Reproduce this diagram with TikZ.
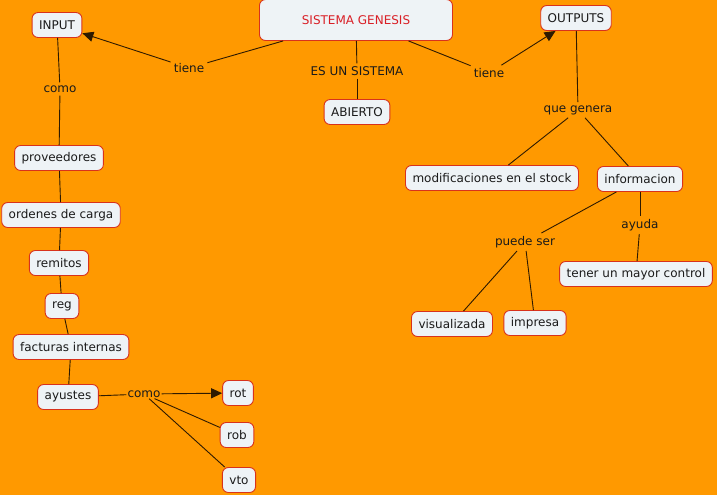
\documentclass[tikz,border=0pt]{standalone}
\definecolor{MapOrange}{HTML}{FF9900}
\definecolor{MapPaper}{HTML}{EEF3F6}
\definecolor{MapRim}{HTML}{D8321C}
\definecolor{MapInk}{HTML}{1A1A1A}
\definecolor{MapLine}{HTML}{2E1A00}
\definecolor{MapRed}{HTML}{D91F26}
\usepackage{fontspec}
\setmainfont{DejaVu Sans}
\usepackage{tikz}
\usetikzlibrary{arrows.meta}

\begin{document}
\begin{tikzpicture}[x=1pt,y=-1pt,>={Triangle[length=11pt,width=10pt]},
    concept/.style={draw=MapRim,fill=MapPaper,rounded corners=6pt,line width=0.9pt,
      text=MapInk,minimum height=25pt,inner xsep=7pt,font=\fontsize{12}{14}\selectfont},
    linkword/.style={text=MapInk,inner sep=3pt,font=\fontsize{12}{14}\selectfont},
    link/.style={draw=MapLine,line width=0.9pt}]
    \fill[MapOrange] (0,0) rectangle (717,495);
    \useasboundingbox (0,0) rectangle (717,495);

    % concepts
    \node[concept,minimum width=193pt,minimum height=41pt,text=MapRed] (sis) at (356,20) {SISTEMA GENESIS};
    \node[concept] (input) at (57,25) {INPUT};
    \node[concept] (outputs) at (576,18) {OUTPUTS};
    \node[concept] (abierto) at (357,112) {ABIERTO};
    \node[concept] (prov) at (59,158) {proveedores};
    \node[concept] (ordenes) at (61,215) {ordenes de carga};
    \node[concept] (remitos) at (59,263) {remitos};
    \node[concept] (reg) at (62,306) {reg};
    \node[concept] (facturas) at (71,347) {facturas internas};
    \node[concept] (ayustes) at (68,397) {ayustes};
    \node[concept] (rot) at (238,393) {rot};
    \node[concept] (rob) at (237,435) {rob};
    \node[concept] (vto) at (239,480) {vto};
    \node[concept] (modif) at (492,178) {modificaciones en el stock};
    \node[concept] (info) at (640,179) {informacion};
    \node[concept] (tener) at (636,274) {tener un mayor control};
    \node[concept] (visual) at (452,324) {visualizada};
    \node[concept] (impresa) at (535,323) {impresa};

    % link words
    \node[linkword] (tieneL) at (189,68) {tiene};
    \node[linkword] (esun) at (357,71) {ES UN SISTEMA};
    \node[linkword] (tieneR) at (489,73) {tiene};
    \node[linkword] (comoA) at (60,89) {como};
    \node[linkword] (genera) at (578,110) {que genera};
    \node[linkword] (puede) at (525,242) {puede ser};
    \node[linkword] (ayuda) at (640,225) {ayuda};
    \node[linkword,inner sep=1pt] (comoB) at (144,394) {como};

    \foreach \a/\b in {sis/tieneL,sis/tieneR,sis/esun,esun/abierto,input/comoA,comoA/prov,
      prov/ordenes,ordenes/remitos,remitos/reg,reg/facturas,facturas/ayustes,ayustes/comoB,
      comoB/rob,comoB/vto,outputs/genera,genera/modif,genera/info,info/puede,
      puede/visual,puede/impresa,info/ayuda,ayuda/tener}
      \draw[link] (\a) -- (\b);
    \foreach \a/\b in {tieneL/input,tieneR/outputs,comoB/rot}
      \draw[link,->] (\a) -- (\b);
  \end{tikzpicture}
\end{document}
